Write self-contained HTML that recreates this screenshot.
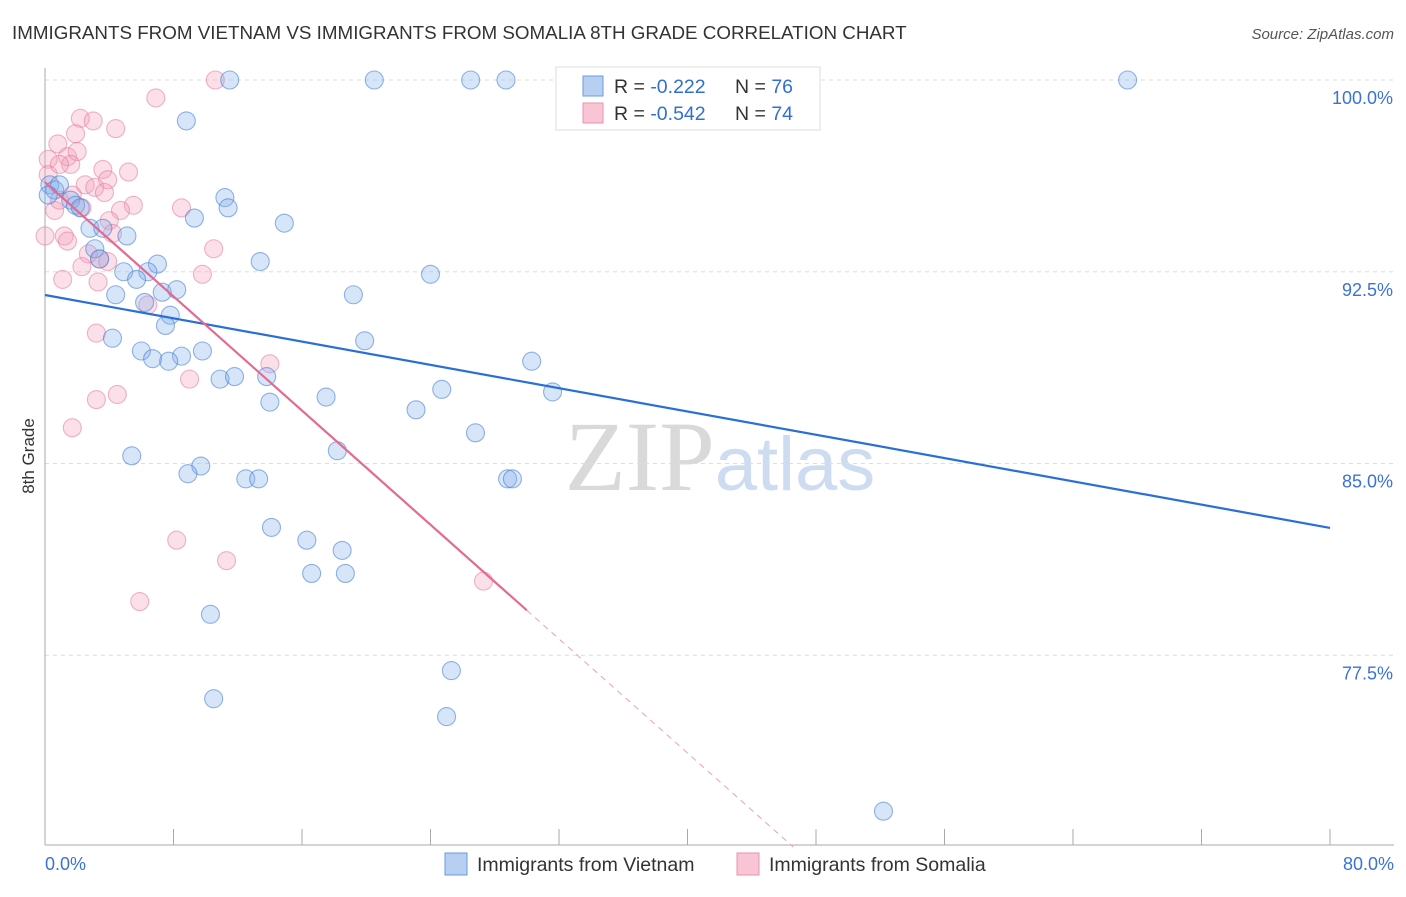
<!DOCTYPE html>
<html><head><meta charset="utf-8">
<style>
body{margin:0;background:#fff;font-family:"Liberation Sans",sans-serif}
svg text{font-family:"Liberation Sans",sans-serif}
</style></head>
<body>
<svg id="chart" width="1406" height="892" viewBox="0 0 1406 892" xmlns="http://www.w3.org/2000/svg">
<text x="12" y="39" font-size="18.8" fill="#333">IMMIGRANTS FROM VIETNAM VS IMMIGRANTS FROM SOMALIA 8TH GRADE CORRELATION CHART</text>
<text x="1394" y="39" font-size="15" fill="#555" text-anchor="end" font-style="italic">Source: ZipAtlas.com</text>
<text x="720" y="490" font-size="100" text-anchor="middle"><tspan fill="#d9d9d9" font-family="Liberation Serif">ZIP</tspan><tspan fill="#cddcf1" font-size="76">atlas</tspan></text>
<g id="grid"></g>
<g id="axes"></g>
<g id="pts"></g>
<g id="trends"></g>
<text transform="translate(34,456) rotate(-90)" font-size="17" fill="#333" text-anchor="middle">8th Grade</text>
<g>
<rect x="556" y="67" width="264" height="63" fill="#fff" stroke="#ddd"/>
<rect x="583" y="76" width="20" height="20" fill="#b7d0f2" stroke="#6a9ae0"/>
<rect x="583" y="103" width="20" height="20" fill="#f9c5d4" stroke="#ea91ae"/>
<text x="614" y="93" font-size="19.5" fill="#333">R = <tspan fill="#2f6fd6">-0.222</tspan></text>
<text x="735" y="93" font-size="19.5" fill="#333">N = <tspan fill="#2f6fd6">76</tspan></text>
<text x="614" y="120" font-size="19.5" fill="#333">R = <tspan fill="#2f6fd6">-0.542</tspan></text>
<text x="735" y="120" font-size="19.5" fill="#333">N = <tspan fill="#2f6fd6">74</tspan></text>
</g>
<g>
<rect x="445" y="853" width="22" height="22" fill="#b7d0f2" stroke="#6a9ae0"/>
<text x="477" y="871" font-size="19.5" fill="#333">Immigrants from Vietnam</text>
<rect x="737" y="853" width="22" height="22" fill="#f9c5d4" stroke="#ea91ae"/>
<text x="769" y="871" font-size="19.5" fill="#333">Immigrants from Somalia</text>
</g>
</svg>
<script>
const xTicks=[0,8,16,24,32,40,48,56,64,72,80];
const yTicks=[100,92.5,85,77.5];
const yTickLabels=["100.0%","92.5%","85.0%","77.5%"];
const xEndLabels=["0.0%","80.0%"];
const vietX=[11.5,20.5,26.5,28.7,67.4,8.8,11.2,11.4,9.3,14.9,0.3,0.6,0.9,0.2,1.6,1.9,2.2,2.8,3.6,5.1,3.1,3.4,13.4,7.0,4.9,6.4,5.7,24.0,4.4,7.3,8.2,19.2,6.2,7.8,7.5,4.2,19.9,6.0,9.8,6.7,8.5,7.7,30.3,10.9,11.8,13.8,24.7,31.6,17.5,14.0,23.1,26.8,18.2,5.4,9.7,8.9,12.5,13.3,28.8,29.1,14.1,16.3,18.5,16.6,18.7,10.3,25.3,10.5,25.0,52.2];
const vietY=[100,100,100,100,100,98.4,95.4,95.0,94.6,94.4,95.9,95.7,95.9,95.5,95.3,95.1,95.0,94.2,94.2,93.9,93.4,93.0,92.9,92.8,92.5,92.5,92.2,92.4,91.6,91.7,91.8,91.6,91.3,90.8,90.4,89.9,89.8,89.4,89.4,89.1,89.2,89.0,89.0,88.3,88.4,88.4,87.9,87.8,87.6,87.4,87.1,86.2,85.5,85.3,84.9,84.6,84.4,84.4,84.4,84.4,82.5,82.0,81.6,80.7,80.7,79.1,76.9,75.8,75.1,71.4];
const somX=[10.6,6.9,2.2,3.0,1.9,4.4,0.8,0.2,1.4,2.0,1.6,5.2,3.6,3.9,0.2,2.5,3.1,3.7,5.5,4.7,0.6,0.9,0,1.2,1.4,4.0,4.2,8.5,2.7,3.4,3.9,2.3,1.1,3.3,10.5,9.8,6.4,3.2,14.0,9.0,4.5,3.2,1.7,8.2,11.3,27.3,5.9,0.9,2.3,1.7];
const somY=[100,99.3,98.5,98.4,97.9,98.1,97.5,96.9,97.0,97.2,96.7,96.4,96.5,96.1,96.3,95.9,95.8,95.6,95.1,94.9,94.9,95.3,93.9,93.9,93.7,94.5,94.0,95.0,93.2,93.0,92.9,92.7,92.2,92.1,93.4,92.4,91.2,90.1,88.9,88.3,87.7,87.5,86.4,82.0,81.2,80.4,79.6,96.7,95.0,95.5];
const vietTrend=[91.59,82.48];
const somTrend=[96.0,51.35];
const somSolidEnd=30.0;
const NS="http://www.w3.org/2000/svg";
const X=v=>45+v*(1285/80);
const Y=v=>80+(100-v)*(767/30);
function mk(tag,attrs,parent){const e=document.createElementNS(NS,tag);for(const k in attrs)e.setAttribute(k,attrs[k]);parent.appendChild(e);return e;}
const grid=document.getElementById('grid'),axes=document.getElementById('axes'),pts=document.getElementById('pts'),tr=document.getElementById('trends');
yTicks.forEach((t,i)=>{
  const l=mk('line',{x1:45,x2:1394,y1:Y(t),y2:Y(t),stroke:'#ddd','stroke-dasharray':'4,4'},grid);
  
  
  const tx=mk('text',{x:1393,y:Y(t)+24,'font-size':18,fill:'#3b72d6','text-anchor':'end'},axes);
  tx.textContent=yTickLabels[i];
  
  
});
let a=mk('line',{x1:45,x2:45,y1:68,y2:845,stroke:'#aaa'},axes);


a=mk('line',{x1:45,x2:1394,y1:845,y2:845,stroke:'#aaa'},axes);


xTicks.forEach(t=>{
  const l=mk('line',{x1:X(t),x2:X(t),y1:829,y2:845,stroke:'#aaa'},axes);
  
  
});
let t0=mk('text',{x:45,y:870,'font-size':18,fill:'#3b72d6'},axes);t0.textContent=xEndLabels[0];


let t1=mk('text',{x:1394,y:870,'font-size':18,fill:'#3b72d6','text-anchor':'end'},axes);t1.textContent=xEndLabels[1];


somX.forEach((v,i)=>{
  const c=mk('circle',{cx:X(v),cy:Y(somY[i]),r:9,fill:'rgba(244,160,186,0.32)',stroke:'rgba(228,110,148,0.5)','stroke-width':1.1},pts);
  
  
});
vietX.forEach((v,i)=>{
  const c=mk('circle',{cx:X(v),cy:Y(vietY[i]),r:9,fill:'rgba(130,175,235,0.32)',stroke:'rgba(60,120,210,0.55)','stroke-width':1.1},pts);
  
  
});
const sy=x=>somTrend[0]+(somTrend[1]-somTrend[0])*x/80;
let l1=mk('line',{x1:X(0),y1:Y(vietTrend[0]),x2:X(80),y2:Y(vietTrend[1]),stroke:'#2a6fd6','stroke-width':2.2},tr);


let l2=mk('line',{x1:X(0),y1:Y(sy(0)),x2:X(somSolidEnd),y2:Y(sy(somSolidEnd)),stroke:'#e46a94','stroke-width':2.2},tr);


const xEnd=(somTrend[0]-70)/(somTrend[0]-somTrend[1])*80;
let l3=mk('line',{x1:X(somSolidEnd),y1:Y(sy(somSolidEnd)),x2:X(xEnd),y2:Y(sy(xEnd)),stroke:'#eaa0b8','stroke-width':1,'stroke-dasharray':'6,5'},tr);


</script>
</body></html>
